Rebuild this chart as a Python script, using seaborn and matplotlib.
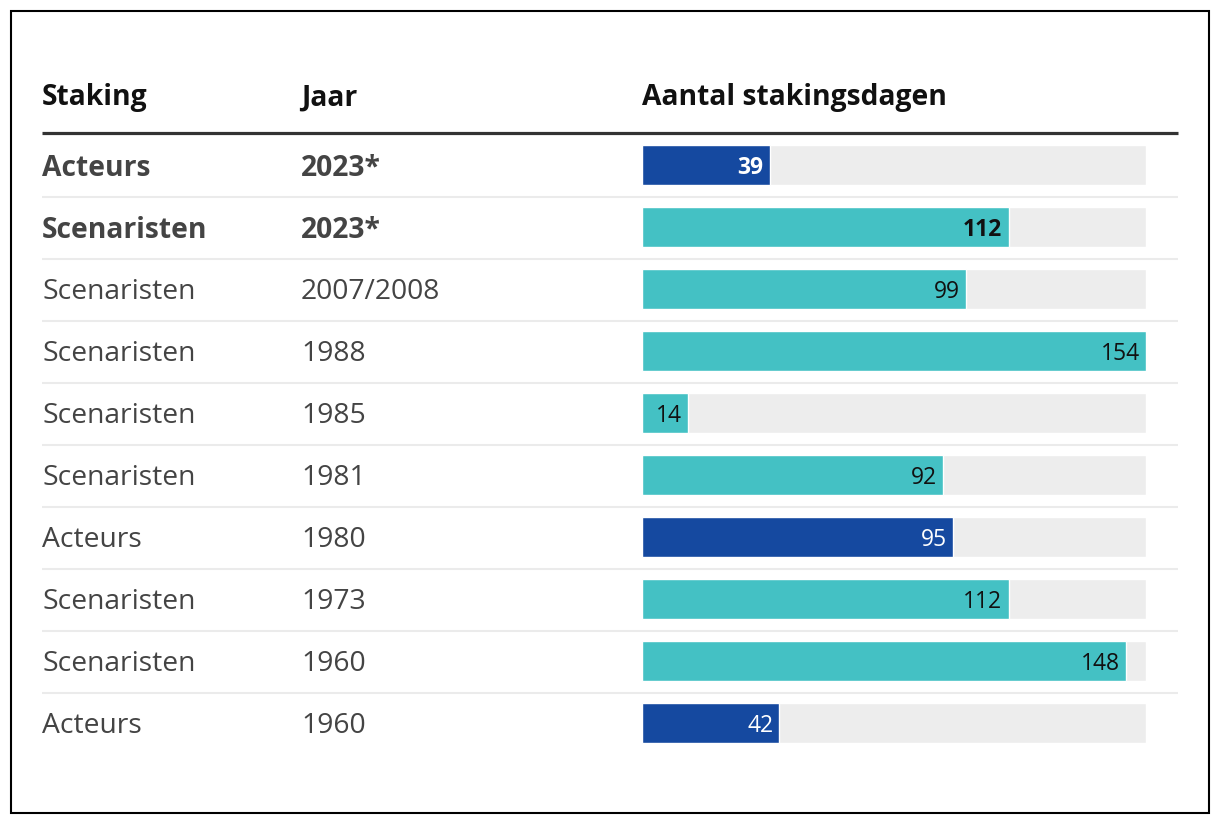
import matplotlib
matplotlib.use("Agg")
import matplotlib.pyplot as plt
import matplotlib.transforms as mtransforms
from matplotlib.patches import Rectangle
import seaborn as sns
import pandas as pd

# ---- data ----
staking = ["Acteurs", "Scenaristen", "Scenaristen", "Scenaristen", "Scenaristen",
           "Scenaristen", "Acteurs", "Scenaristen", "Scenaristen", "Acteurs"]
jaar = ["2023*", "2023*", "2007/2008", "1988", "1985", "1981", "1980", "1973", "1960", "1960"]
dagen = [39, 112, 99, 154, 14, 92, 95, 112, 148, 42]
highlight = [True, True, False, False, False, False, False, False, False, False]
headers = ["Staking", "Jaar", "Aantal stakingsdagen"]

BLUE = "#1549a0"
TEAL = "#44c1c4"
BG = "#ededed"

sns.set_theme(style="white")
plt.rcParams["font.family"] = ["Open Sans", "DejaVu Sans"]

W, H = 1220, 826
fig = plt.figure(figsize=(W / 100, H / 100), dpi=100)
fig.patch.set_facecolor("white")

# axes for bars: x 642..1146 px, y 134..754 px
ax = fig.add_axes([642 / W, 1 - 754 / H, 504 / W, 620 / H])

n = len(dagen)
df = pd.DataFrame({"rij": list(range(n)), "staking": staking, "jaar": jaar,
                   "dagen": dagen, "vol": [max(dagen)] * n})

sns.barplot(data=df, x="vol", y="rij", orient="h", color=BG, width=40 / 62,
            saturation=1, ax=ax, order=list(range(n)))
sns.barplot(data=df, x="dagen", y="rij", orient="h", hue="staking",
            palette={"Acteurs": BLUE, "Scenaristen": TEAL}, dodge=False,
            width=40 / 62, saturation=1, ax=ax, order=list(range(n)), legend=False)

ax.set_xlim(0, max(dagen))
ax.set_ylim(n - 0.5, -0.5)
ax.axis("off")

# value labels
for i, (v, s, h) in enumerate(zip(dagen, staking, highlight)):
    col = "white" if s == "Acteurs" else "#111111"
    ax.annotate(str(v), xy=(v, i), xytext=(-4.5, -2), textcoords="offset points",
                ha="right", va="center", fontsize=16.5, color=col,
                fontweight="bold" if h else "normal")

tr = mtransforms.blended_transform_factory(fig.transFigure, ax.transData)
x1, x2, x3 = 42 / W, 301 / W, 642 / W
xend = 1178 / W
dy = 3 / 62

# headers
hy = -0.5 - 39 / 62 + dy
for x, t in zip([x1, x2, x3], headers):
    fig.text(x, hy, t, transform=tr, ha="left", va="center", fontsize=20.3,
             fontweight="bold", color="#111111")

# header rule
ax.plot([x1, xend], [-0.5 - 1 / 62, -0.5 - 1 / 62], transform=tr, color="#333333",
        lw=2.3, clip_on=False, solid_capstyle="butt")

# separators
for i in range(n - 1):
    y = i + 0.5 + 1 / 62
    ax.plot([x1, xend], [y, y], transform=tr, color="#ebebeb", lw=1.5,
            clip_on=False, solid_capstyle="butt")

# row texts
for i, (s, j, h) in enumerate(zip(staking, jaar, highlight)):
    kw = dict(transform=tr, ha="left", va="center", fontsize=20.3, color="#444444",
              fontweight="bold" if h else "normal")
    fig.text(x1, i + dy, s, **kw)
    fig.text(x2, i + dy, j, **kw)

# border
fig.patches.append(Rectangle((11 / W, 1 - 813 / H), 1197.5 / W, 802 / H,
                             transform=fig.transFigure, fill=False,
                             edgecolor="black", lw=1.5))

fig.savefig("out.png", dpi=100, facecolor="white")
